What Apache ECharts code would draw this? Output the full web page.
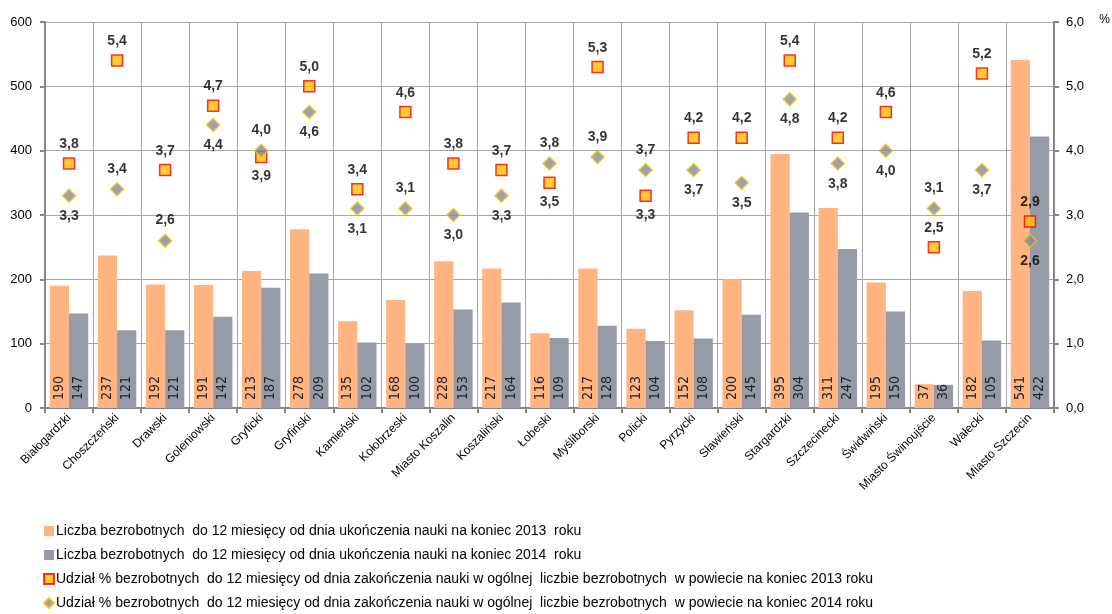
<!DOCTYPE html>
<html>
<head>
<meta charset="utf-8">
<script src="https://cdn.jsdelivr.net/npm/echarts@6/dist/echarts.min.js"></script>
<style>html,body{margin:0;padding:0;background:#fff}#c{width:1112px;height:614px}</style>
</head>
<body>
<div id="c"></div>
<script>
const categories = ['Białogardzki','Choszczeński','Drawski','Goleniowski','Gryficki','Gryfiński','Kamieński','Kołobrzeski','Miasto Koszalin','Koszaliński','Łobeski','Myśliborski','Policki','Pyrzycki','Sławieński','Stargardzki','Szczecinecki','Świdwiński','Miasto Świnoujście','Wałecki','Miasto Szczecin'];
const count2013 = [190,237,192,191,213,278,135,168,228,217,116,217,123,152,200,395,311,195,37,182,541];
const count2014 = [147,121,121,142,187,209,102,100,153,164,109,128,104,108,145,304,247,150,36,105,422];
const share2013 = [3.8,5.4,3.7,4.7,3.9,5.0,3.4,4.6,3.8,3.7,3.5,5.3,3.3,4.2,4.2,5.4,4.2,4.6,2.5,5.2,2.9];
const share2014 = [3.3,3.4,2.6,4.4,4.0,4.6,3.1,3.1,3.0,3.3,3.8,3.9,3.7,3.7,3.5,4.8,3.8,4.0,3.1,3.7,2.6];
// label side for each point: 1 = above marker, 0 = below marker
const labelAbove2013 = [1,1,1,1,0,1,1,1,1,1,0,1,0,1,1,1,1,1,1,1,1];
const labelAbove2014 = [0,1,1,0,1,0,0,1,0,0,1,1,1,0,0,0,0,0,1,0,0];
const leftTicks = [0,100,200,300,400,500,600];
const rightTicks = [0,1,2,3,4,5,6];

const names = [
  'Liczba bezrobotnych  do 12 miesięcy od dnia ukończenia nauki na koniec 2013  roku',
  'Liczba bezrobotnych  do 12 miesięcy od dnia ukończenia nauki na koniec 2014  roku',
  'Udział % bezrobotnych  do 12 miesięcy od dnia zakończenia nauki w ogólnej  liczbie bezrobotnych  w powiecie na koniec 2013 roku',
  'Udział % bezrobotnych  do 12 miesięcy od dnia zakończenia nauki w ogólnej  liczbie bezrobotnych  w powiecie na koniec 2014 roku'
];
const FONT = 'Liberation Sans, Arial, sans-serif';
const NARROW = 'Liberation Sans Narrow, DejaVu Sans Condensed, Liberation Sans, sans-serif';
const comma = v => Number(v).toFixed(1).replace('.', ',');
const pts = (vals, above) => vals.map((v, i) => ({value: v, label: {position: above[i] ? 'top' : 'bottom'}}));
const barLabel = {show: true, position: 'insideBottom', rotate: 90, align: 'left', verticalAlign: 'middle', distance: 8, fontSize: 14, color: '#222', fontFamily: NARROW};

const chart = echarts.init(document.getElementById('c'), null, {renderer: 'canvas'});
chart.setOption({
  animation: false,
  textStyle: {fontFamily: FONT},
  grid: {left: 45, right: 58, top: 22, bottom: 206, containLabel: false},
  xAxis: {
    type: 'category', data: categories,
    axisLine: {lineStyle: {color: '#868686', width: 2}},
    axisTick: {show: true, alignWithLabel: false, length: 5, lineStyle: {color: '#868686', width: 2}},
    splitLine: {show: true, lineStyle: {color: '#A6A6A6', width: 1}},
    axisLabel: {interval: 0, rotate: 45, fontSize: 12, color: '#000', fontFamily: FONT, margin: 8}
  },
  yAxis: [
    {type: 'value', min: leftTicks[0], max: leftTicks[leftTicks.length-1], interval: 100,
     axisLine: {show: true, lineStyle: {color: '#868686', width: 2}},
     axisTick: {show: true, length: 5, lineStyle: {color: '#868686', width: 2}},
     splitLine: {lineStyle: {color: '#A6A6A6', width: 1}},
     axisLabel: {fontSize: 13, color: '#000', fontFamily: FONT, margin: 13}},
    {type: 'value', min: rightTicks[0], max: rightTicks[rightTicks.length-1], interval: 1,
     axisLine: {show: true, lineStyle: {color: '#868686', width: 2}},
     axisTick: {show: true, length: 5, lineStyle: {color: '#868686', width: 2}},
     splitLine: {show: false},
     axisLabel: {fontSize: 13, color: '#000', fontFamily: FONT, margin: 12, formatter: v => comma(v)}}
  ],
  graphic: [{type: 'text', right: 2, top: 14, style: {text: '%', fontSize: 12, fill: '#000', fontFamily: FONT}}],
  legend: {
    orient: 'vertical', left: 43, top: 524, padding: 0, itemGap: 10, itemWidth: 10, itemHeight: 10,
    textStyle: {fontSize: 14, color: '#000', fontFamily: FONT, padding: [0,0,0,-3]},
    data: [
      {name: names[0], icon: 'rect'},
      {name: names[1], icon: 'rect'},
      {name: names[2], icon: 'rect'},
      {name: names[3], icon: 'diamond'}
    ]
  },
  series: [
    {name: names[0], type: 'bar', data: count2013, barGap: '0%', barCategoryGap: '20%',
     itemStyle: {color: '#FFB482'}, label: barLabel},
    {name: names[1], type: 'bar', data: count2014,
     itemStyle: {color: '#959CA8'}, label: barLabel},
    {name: names[2], type: 'scatter', yAxisIndex: 1, data: pts(share2013, labelAbove2013),
     symbol: 'rect', symbolSize: 11, z: 5,
     itemStyle: {color: '#FFC000', borderColor: '#FF0000', borderWidth: 1.5},
     label: {show: true, fontSize: 14, fontWeight: 'bold', color: '#000', distance: 6, fontFamily: FONT, formatter: p => comma(p.value)}},
    {name: names[3], type: 'scatter', yAxisIndex: 1, data: pts(share2014, labelAbove2014),
     symbol: 'diamond', symbolSize: 13, z: 6,
     itemStyle: {color: '#7D8BA8', borderColor: '#FFC000', borderWidth: 1.5},
     label: {show: true, fontSize: 14, fontWeight: 'bold', color: '#000', distance: 6, fontFamily: FONT, formatter: p => comma(p.value)}}
  ]
});
</script>
</body>
</html>
